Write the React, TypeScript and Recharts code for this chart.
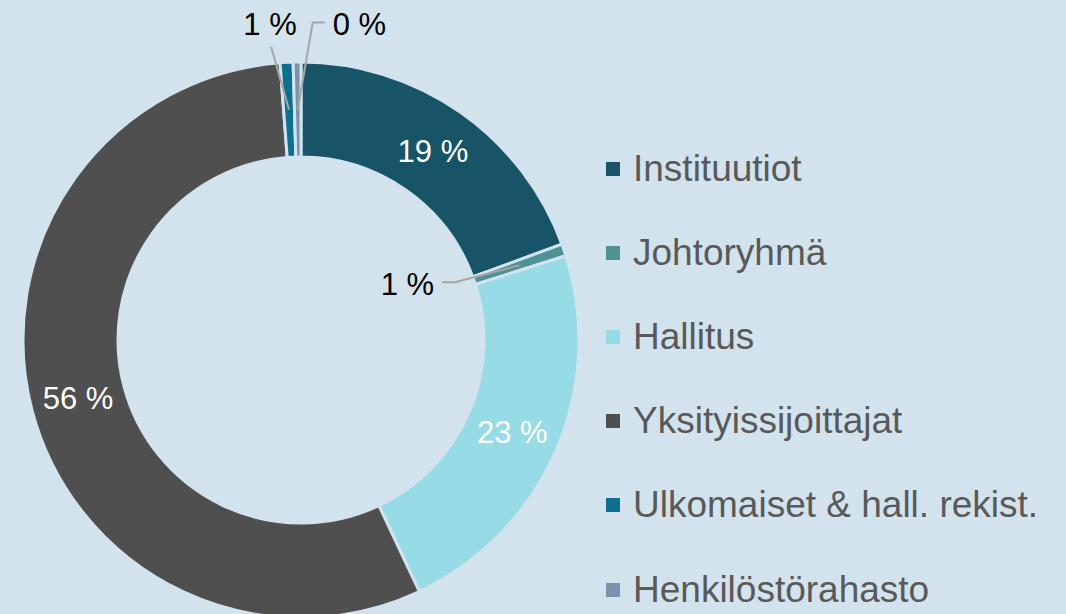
import { PieChart, Pie, Cell, Legend } from 'recharts'

const categories = [
  'Instituutiot',
  'Johtoryhmä',
  'Hallitus',
  'Yksityissijoittajat',
  'Ulkomaiset & hall. rekist.',
  'Henkilöstörahasto',
]
const shares = [19.4, 0.7, 22.9, 55.8, 0.75, 0.45]
const shareLabels = ['19 %', '1 %', '23 %', '56 %', '1 %', '0 %']
const colors = ['#175468', '#4f9294', '#97dbe6', '#4f4f4f', '#0f6f8f', '#7a93ad']

const BG = '#d3e3ed'
const RADIAN = Math.PI / 180

const data = categories.map((name, i) => ({ name, value: shares[i] }))

// leader lines for the thin slices: offsets from the slice's mid point
const callouts: Record<number, { pts: [number, number][]; text: [number, number]; anchor: 'start' | 'middle' | 'end' }> = {
  1: { pts: [[-64, 17], [-77, 17]], text: [-85, 19], anchor: 'end' },
  4: { pts: [[-18, -63]], text: [-19, -85], anchor: 'middle' },
  5: { pts: [[15, -87], [27, -87]], text: [35, -85], anchor: 'start' },
}

function SliceLabel(props: any) {
  const { cx, cy, midAngle, innerRadius, outerRadius, index } = props
  const r = (innerRadius + outerRadius) / 2
  const px = cx + r * Math.cos(-midAngle * RADIAN)
  const py = cy + r * Math.sin(-midAngle * RADIAN)
  const c = callouts[index]
  if (!c) {
    return (
      <text x={px} y={py} fill="#ffffff" fontSize={31} textAnchor="middle" dominantBaseline="central"
        fontFamily="'Liberation Sans', Arial, sans-serif">
        {shareLabels[index]}
      </text>
    )
  }
  const d = `M${px},${py}` + c.pts.map(([dx, dy]) => ` L${px + dx},${py + dy}`).join('')
  return (
    <g>
      <path d={d} stroke="#a6a6a6" strokeWidth={2} fill="none" />
      <text x={px + c.text[0]} y={py + c.text[1]} fill="#000000" fontSize={31} textAnchor={c.anchor}
        dominantBaseline="central" fontFamily="'Liberation Sans', Arial, sans-serif">
        {shareLabels[index]}
      </text>
    </g>
  )
}

function LegendList() {
  return (
    <div style={{ position: 'relative', width: 460, height: 470 }}>
      {categories.map((name, i) => (
        <div key={name} style={{ position: 'absolute', left: 0, top: i * 84.1, display: 'flex', alignItems: 'center',
          height: 37, whiteSpace: 'nowrap' }}>
          <span style={{ width: 14, height: 14, background: colors[i], marginRight: 13, marginTop: 1, flexShrink: 0 }} />
          <span style={{ fontSize: 37, lineHeight: '37px', color: '#595959',
            fontFamily: "'Liberation Sans', Arial, sans-serif" }}>{name}</span>
        </div>
      ))}
    </div>
  )
}

export default function App() {
  return (
    <div style={{ width: 1066, height: 614, background: BG, overflow: 'hidden' }}>
      <style>{'body{margin:0}'}</style>
      <PieChart width={1066} height={614} margin={{ top: 0, right: 0, bottom: 0, left: 0 }}>
        <Pie
          data={data}
          dataKey="value"
          nameKey="name"
          cx={301}
          cy={340}
          innerRadius={183}
          outerRadius={278}
          startAngle={90}
          endAngle={-270}
          stroke={BG}
          strokeWidth={3}
          label={SliceLabel}
          labelLine={false}
          isAnimationActive={false}
        >
          {data.map((d, i) => <Cell key={d.name} fill={colors[i]} />)}
        </Pie>
        <Legend
          layout="vertical"
          align="right"
          verticalAlign="top"
          content={() => <LegendList />}
          wrapperStyle={{ left: 606, top: 150, width: 460 }}
        />
      </PieChart>
    </div>
  )
}
